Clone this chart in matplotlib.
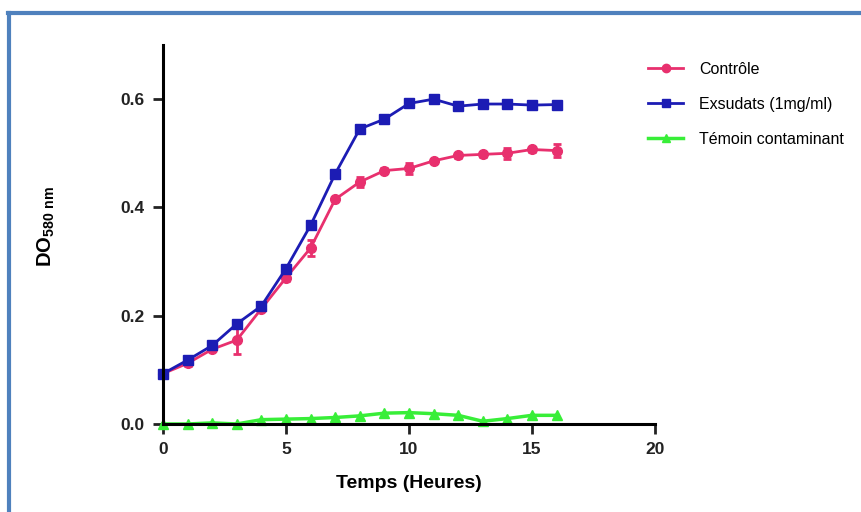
import matplotlib
matplotlib.use("Agg")
import matplotlib.pyplot as plt
from matplotlib.lines import Line2D

plt.rcParams['font.family'] = ['Liberation Sans', 'DejaVu Sans']

heures = list(range(17))

controle = [0.093, 0.112, 0.138, 0.155, 0.213, 0.270, 0.325, 0.415, 0.447,
            0.468, 0.472, 0.486, 0.496, 0.498, 0.500, 0.507, 0.505]
controle_err = [0.003, 0.004, 0.004, 0.025, 0.005, 0.005, 0.015, 0.004, 0.010,
                0.004, 0.010, 0.004, 0.004, 0.004, 0.010, 0.005, 0.012]

exsudats = [0.093, 0.118, 0.145, 0.185, 0.218, 0.287, 0.367, 0.462, 0.545,
            0.563, 0.592, 0.600, 0.587, 0.591, 0.591, 0.589, 0.590]
exsudats_err = [0.003, 0.003, 0.003, 0.003, 0.003, 0.004, 0.004, 0.004, 0.004,
                0.003, 0.004, 0.003, 0.004, 0.007, 0.004, 0.004, 0.004]

temoin = [0.000, 0.000, 0.002, 0.000, 0.008, 0.009, 0.010, 0.012, 0.015,
          0.020, 0.021, 0.019, 0.016, 0.005, 0.010, 0.016, 0.016]

noms = ['Contrôle', 'Exsudats (1mg/ml)', 'Témoin contaminant']

rose = '#E8306E'
bleu = '#1C1CB4'
vert = '#38EE38'

fig = plt.figure(figsize=(8.61, 5.12), dpi=100)
ax = fig.add_axes([0.1893, 0.1719, 0.5714, 0.7402])

ax.errorbar(heures, controle, yerr=controle_err, color=rose, marker='o', ms=7,
            lw=2, capsize=3, elinewidth=2, capthick=2, clip_on=False)
ax.errorbar(heures, exsudats, yerr=exsudats_err, color=bleu, marker='s', ms=7.5,
            lw=2, capsize=3, elinewidth=2, capthick=2, clip_on=False)
ax.plot(heures, temoin, color=vert, marker='^', ms=6.5, lw=2.5, clip_on=False)

ax.set_xlim(0, 20)
ax.set_ylim(0, 0.7)
ax.set_xticks([0, 5, 10, 15, 20])
ax.set_yticks([0.0, 0.2, 0.4, 0.6])
ax.set_yticklabels(['0.0', '0.2', '0.4', '0.6'])
for s in ['top', 'right']:
    ax.spines[s].set_visible(False)
for s in ['left', 'bottom']:
    ax.spines[s].set_linewidth(2.2)
ax.tick_params(width=2, length=7, pad=6, labelsize=12.5, colors='#222222')
for lab in ax.get_xticklabels() + ax.get_yticklabels():
    lab.set_fontweight('bold')

ax.set_xlabel('Temps (Heures)', fontsize=14, fontweight='bold')
ax.xaxis.set_label_coords(0.5, -0.135)
ax.set_ylabel(r'DO$_{\mathregular{580\ nm}}$', fontsize=14.5, fontweight='bold')
ax.yaxis.set_label_coords(-0.215, 0.52)

poignees = [
    Line2D([], [], color=rose, marker='o', ms=6, lw=2),
    Line2D([], [], color=bleu, marker='s', ms=6, lw=2),
    Line2D([], [], color=vert, marker='^', ms=6, lw=2.5),
]
fig.legend(poignees, noms, loc='upper left', bbox_to_anchor=(0.7526, 0.879),
           frameon=False, fontsize=11.5, borderpad=0, borderaxespad=0,
           handlelength=2.2, handletextpad=1.0, labelspacing=1.25)

# cadre bleu
fig.add_artist(Line2D([0.0105, 0.0105], [0, 0.975], color='#4F81BD', lw=3))
fig.add_artist(Line2D([0.009, 1.0], [0.974, 0.974], color='#4F81BD', lw=3))

fig.savefig('out.png', dpi=100)
